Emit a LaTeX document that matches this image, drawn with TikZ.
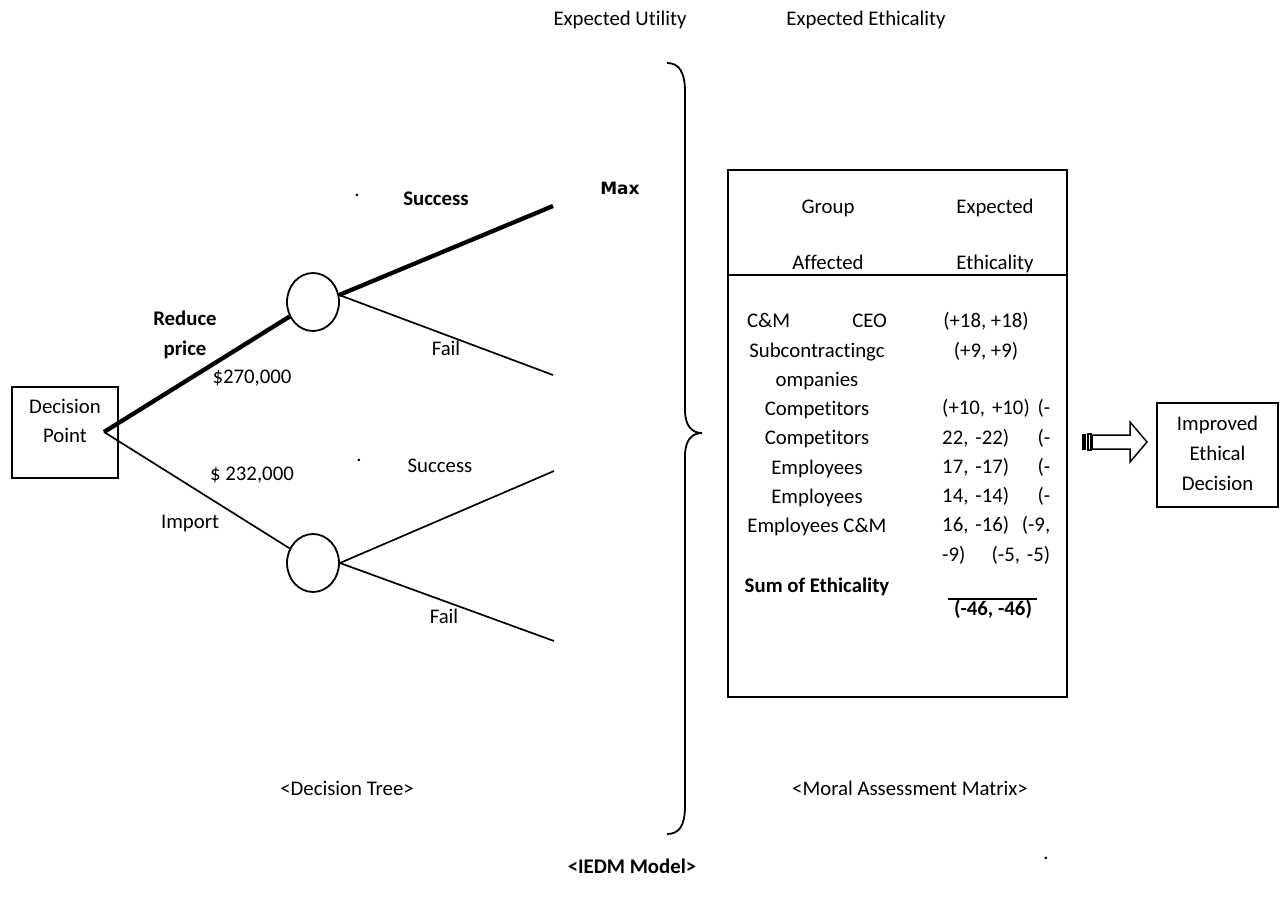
\documentclass[tikz,border=0pt]{standalone}
\usepackage{fontspec}
\setmainfont{Carlito}[Ligatures=NoCommon]
\newfontfamily\maxfont{DejaVu Sans}
\usetikzlibrary{shapes.geometric}
\newcommand\sst{\rule[-6pt]{0pt}{22pt}}
\begin{document}
\begin{tikzpicture}[x=1pt,y=-1pt,
 txt/.style={inner sep=0pt,text height=16pt,text depth=6pt,font=\fontsize{20.8}{29.3}\selectfont},
 btxt/.style={txt,font=\fontsize{20.8}{29.3}\selectfont\bfseries},
 mtxt/.style={inner sep=0pt,font=\fontsize{20.8}{29.3}\selectfont},
 edgethin/.style={line width=1.7pt},
 edgethick/.style={line width=4.3pt},
 chance/.style={draw,ellipse,line width=1.8pt,minimum width=52pt,minimum height=58pt,inner sep=0pt},
 frame/.style={draw,line width=2pt,inner sep=0pt}
]
\useasboundingbox (0,0) rectangle (1282,902);

% headings
\node[txt] (eu) at (620,20) {Expected Utility};
\node[txt] (ee) at (866,20) {Expected Ethicality};

% decision tree
\node[frame,minimum width=106pt,minimum height=91pt] (dp) at (65,432.5) {};
\node[mtxt,align=center] (dpt) at (65,423) {\sst Decision\\\sst Point};
\coordinate (dv) at (104,432);
\node[chance] (c1) at (313,302) {};
\node[chance] (c2) at (313,563) {};
\coordinate (s1) at (553,206);
\coordinate (f1) at (553,375);
\coordinate (s2) at (554,471);
\coordinate (f2) at (554,641);
\draw[edgethick] (dv) -- (c1);
\draw[edgethin] (dv) -- (c2);
\draw[edgethick] (c1.15) -- (s1);
\draw[edgethin] (c1.15) -- (f1);
\draw[edgethin] (c2.east) -- (s2);
\draw[edgethin] (c2.east) -- (f2);

\node[btxt] (rp1) at (185,320) {Reduce};
\node[btxt] (rp2) at (185,350) {price};
\node[txt] (v1) at (252,378) {\$270,000};
\node[txt] (v2) at (252,475) {\$ 232,000};
\node[txt] (imp) at (190,523) {Import};
\node[btxt] (suc1) at (436,200) {Success};
\node[txt] (fail1) at (446,350) {Fail};
\node[txt] (suc2) at (440,467) {Success};
\node[txt] (fail2) at (444,618) {Fail};
\node[inner sep=0pt,font=\maxfont\bfseries\fontsize{17}{20}\selectfont] (max) at (620,188) {Max};
\node[mtxt,anchor=base] (d1) at (357,196) {.};
\node[mtxt,anchor=base] (d2) at (359,461) {.};

% brace
\draw[line width=1.8pt] (667,63) .. controls (679,63) and (685,72) .. (685,92) -- (685,410)
  .. controls (685,426) and (692,433) .. (702,433)
  .. controls (692,433) and (685,440) .. (685,456) -- (685,806)
  .. controls (685,826) and (679,834) .. (667,834);

% moral assessment matrix
\node[frame,minimum width=339pt,minimum height=527pt] (tbl) at (897.5,433.5) {};
\coordinate (hl) at (0,275);
\draw[line width=2pt] (tbl.west |- hl) -- (tbl.east |- hl);
\node[txt] (g1) at (828,208) {Group};
\node[txt] (g2) at (828,264) {Affected};
\node[txt] (e1) at (995,208) {Expected};
\node[txt] (e2) at (995,264) {Ethicality};
\node[mtxt,align=center,anchor=north] (gcol) at (817,311.5)
  {\makebox[140pt]{\sst C\&M\hfill CEO}\\\sst Subcontractingc\\\sst ompanies\\\sst Competitors\\\sst Competitors\\\sst Employees\\\sst Employees\\\sst Employees C\&M};
\node[mtxt,align=center,anchor=north] (ecol1) at (986,311.5)
  {\sst(+18, +18)\\\sst(+9, +9)};
\node[mtxt,align=left,text width=108pt,anchor=north west] (ecol2) at (942,398.5)
  {\sst(+10, +10)\hfill(-\\\sst 22, -22)\hfill(-\\\sst 17, -17)\hfill(-\\\sst 14, -14)\hfill(-\\\sst 16, -16)\hfill(-9,\\\sst -9)\hfill(-5, -5)};
\node[btxt] (sum) at (817,587) {Sum of Ethicality};
\node[btxt] (tot) at (993,610) {(-46, -46)};
\draw[line width=1.5pt] ([xshift=-6pt]tot.north west) -- ([xshift=5pt]tot.north east);

% block arrow
\coordinate (arr) at (1092,442);
\fill (1082,434) rectangle (1086,450);
\draw[line width=1.2pt] (1088,434) rectangle (1091,450);
\draw[line width=1.5pt] (arr) ++(0,-7) -- ++(38,0) -- ++(0,-13) -- ++(17,20) -- ++(-17,20) -- ++(0,-13) -- ++(-38,0) -- cycle;

\node[frame,align=center,minimum width=121pt,minimum height=104pt,font=\fontsize{20.8}{30}\selectfont] (ied) at (1217.5,455)
  {\sst Improved\\\sst Ethical\\\sst Decision};

% captions
\node[txt] (cdt) at (347,790) {<Decision Tree>};
\node[txt] (cmam) at (910,790) {<Moral Assessment Matrix>};
\node[mtxt,anchor=base] (d3) at (1046,859) {.};
\node[btxt] (ciedm) at (632,868) {<IEDM Model>};
\end{tikzpicture}
\end{document}
